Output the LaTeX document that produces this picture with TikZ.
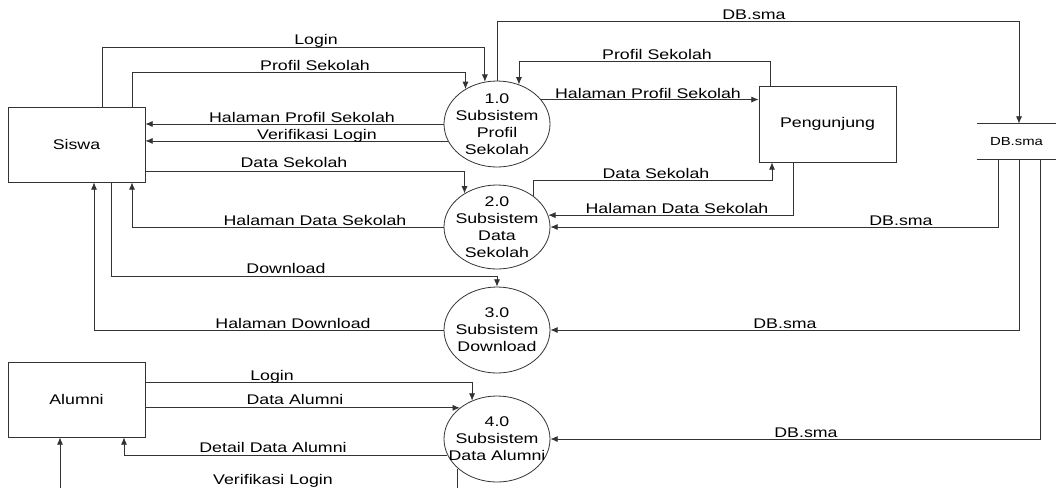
\documentclass[tikz,border=0pt]{standalone}
\usepackage{fontspec}
\setmainfont{Liberation Sans}[FakeStretch=1.27]
\usetikzlibrary{arrows,arrows.meta,calc,shapes.geometric}
\tikzset{
  box/.style={draw,minimum width=137*0.75pt,minimum height=75*0.75pt,inner sep=0pt},
  proc/.style={draw,ellipse,minimum width=106*0.75pt,minimum height=86*0.75pt,inner sep=0pt},
  ptext/.style={align=center,inner sep=0pt},
  store/.style={minimum width=79*0.75pt,minimum height=35*0.75pt,inner sep=0pt,font=\fontsize{8.8}{10}\selectfont},
  lbl/.style={anchor=base,inner sep=0pt},
  flow/.style={-{Latex[length=5.5pt,width=4.6pt]}}
}
\begin{document}
\begin{tikzpicture}[x=0.75pt,y=-0.75pt,line width=0.6pt,draw=black!80,font=\fontsize{10.5}{12.75}\selectfont]
\useasboundingbox(0,0)rectangle(1056,487);
\clip(0,0)rectangle(1056,487);
% entities and store
\node[box](siswa)at(76.5,144.5){Siswa};
\node[box](al)at(76.5,399.5){Alumni};
\node[box,minimum height=76*0.75pt](pg)at(827.5,124){Pengunjung};
\node[store](db)at(1016.5,141.5){DB.sma};
\draw(db.north west)--(db.north east)(db.south west)--(db.south east);
% processes
\node[proc](p1)at(497,124){};
\node[proc,minimum height=84*0.75pt](p2)at(497,227){};
\node[proc](p3)at(497,330){};
\node[proc](p4)at(497,439){};
\node[ptext](p1t)at(p1){1.0\\Subsistem\\Profil\\Sekolah};
\node[ptext](p2t)at(p2){2.0\\Subsistem\\Data\\Sekolah};
\node[ptext](p3t)at(p3){3.0\\Subsistem\\Download};
\node[ptext](p4t)at(p4){4.0\\Subsistem\\Data Alumni};
% Siswa flows
\draw[flow]($(siswa.north)+(25.5,0)$)|-(p1.106 |- 0,47)--(p1.106);
\draw[flow]($(siswa.north)+(55.5,0)$)|-(p1.132 |- 0,72)--(p1.132);
\draw[flow](p1.west)--(siswa.east |- p1.west);
\draw[flow](p1.199)--(siswa.east |- p1.199);
\draw[flow](siswa.east |- 0,171)-|(p2.134);
\draw[flow](p2.west)-|($(siswa.south)+(55.5,0)$);
\draw[flow]($(siswa.south)+(34.5,0)$)|-(p3.north |- 0,276)--(p3.north);
\draw[flow](p3.west)-|($(siswa.south)+(17.5,0)$);
% Pengunjung flows
\draw[flow]($(pg.north)+(-57.5,0)$)|-(p1.61 |- 0,61)--(p1.61);
\draw[flow](p1.29)--(pg.west |- p1.29);
\draw[flow](p2.41)|-($(pg.south)+(-55.5,18)$)--($(pg.south)+(-55.5,0)$);
\draw[flow]($(pg.south)+(-34.5,0)$)|-(p2.13);
% DB.sma flows
\draw[flow](p1.north)--(p1.north |- 0,21)-|($(db.north)+(2.5,0)$);
\draw[flow]($(db.south)+(-18.5,0)$)|-(p2.east);
\draw[flow]($(db.south)+(2.5,0)$)|-(p3.east);
\draw[flow]($(db.south)+(23.5,0)$)|-(p4.east);
% Alumni flows
\draw[flow](al.east |- 0,382)-|(p4.123);
\draw[flow](al.east |- p4.140)--(p4.140);
\draw[flow](p4.198)-|($(al.south)+(47.5,0)$);
\draw[flow](p4.217)|-($(al.south)+(-16.5,70)$)--($(al.south)+(-16.5,0)$);
% labels
\foreach[count=\i]\x/\y/\t in {316/44/Login,315/70/Profil Sekolah,
  302/122/Halaman Profil Sekolah,317/139/Verifikasi Login,294/167/Data Sekolah,
  315/225/Halaman Data Sekolah,286/273/Download,293/328/Halaman Download,
  272/380/Login,295/404/Data Alumni,273/452/Detail Data Alumni,
  273/484/Verifikasi Login,657/59/Profil Sekolah,648/98/Halaman Profil Sekolah,
  656/178/Data Sekolah,677/213/Halaman Data Sekolah,754/19/DB.sma,
  901/225/DB.sma,785/328/DB.sma,806/437/DB.sma}
  \node[lbl](lb\i)at(\x,\y){\t};
\end{tikzpicture}
\end{document}
